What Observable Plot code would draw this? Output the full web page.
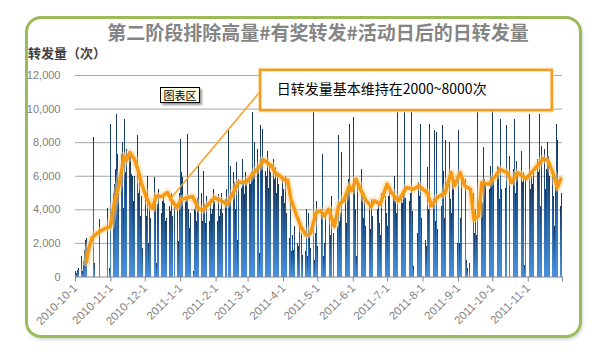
<!DOCTYPE html>
<html><head><meta charset="utf-8">
<script src="https://cdn.jsdelivr.net/npm/d3@7"></script>
<script src="https://cdn.jsdelivr.net/npm/@observablehq/plot@0.6"></script>
<style>
body{margin:0;background:#fff;}
#wrap{position:relative;width:614px;height:364px;overflow:hidden;font-family:"Noto Sans CJK SC",sans-serif;}
#frame{position:absolute;left:25px;top:16px;width:557px;height:322px;border:3px solid #9bbb59;border-radius:16px;box-sizing:border-box;box-shadow:1px 2px 3px rgba(0,0,0,0.15);}
#chart{position:absolute;left:0;top:0;}
#title{position:absolute;left:0;width:636px;top:18px;text-align:center;font-size:19px;font-weight:bold;color:#858585;line-height:28px;white-space:nowrap;}
#ylabel{position:absolute;left:28px;top:44px;font-size:13px;font-weight:bold;color:#404040;line-height:18px;white-space:nowrap;}
#tip{position:absolute;left:160px;top:87px;width:38px;height:14px;background:#ffffe1;border:1px solid #000;box-shadow:2px 2px 2px #999;font-size:11px;line-height:14px;text-align:center;color:#000;}
</style>
</head><body>
<div id="wrap">
  <div id="frame"></div>
  <div id="chart"></div>
  <div id="title">第二阶段排除高量#有奖转发#活动日后的日转发量</div>
  <div id="ylabel">转发量（次）</div>
  <div id="tip">图表区</div>
</div>
<script>
// Daily repost counts, one array per month (0 = no bar that day)
const monthStarts = ["2010-10-01","2010-11-01","2010-12-01","2011-01-01","2011-02-01","2011-03-01","2011-04-01","2011-05-01","2011-06-01","2011-07-01","2011-08-01","2011-09-01","2011-10-01","2011-11-01"];
const oct2010 = [300,200,400,500,400,1200,300,900,1600,2200,2300,4500,0,0,0,0,8300,800,0,0,0,3400,0,0,0,0,0,0,4100,0,500];
const nov2010 = [9100,4200,5000,5500,6400,9700,7300,5000,9600,7300,8000,4100,9400,6200,7600,7600,7500,7200,6100,6000,4500,6000,2700,8400,5000,6000,3600,4800,1700,2500];
const dec2010 = [4800,3600,6000,2000,4400,3500,6500,0,5900,4600,800,4300,5200,6800,3800,4500,5000,4400,3300,3500,5900,4200,3900,5000,3600,0,4500,3400,4000,2100,5000];
const jan2011 = [8200,6200,5900,3000,4500,4700,8500,4000,2900,3800,3400,300,4000,4200,3300,4700,6600,2600,5000,3300,6300,4300,3200,4800,5000,3300,4600,3700,4000,5200,4500];
const feb2011 = [4700,3300,4900,3600,4000,5000,3800,4400,4600,5200,0,8700,4800,6600,5200,6200,5600,4000,6800,2200,5800,6000,5300,7000,5600,4900,6200,5800];
const mar2011 = [8100,5800,5500,6200,9800,6000,8000,5600,7600,6400,1400,9000,7000,8800,7200,6300,6000,7500,5300,6800,6200,4300,7000,5800,6500,5000,6200,5500,6000,4800,6000];
const apr2011 = [5200,4400,6000,3800,5500,2300,4600,1500,2500,1600,3000,1200,2000,1800,3500,0,2600,1300,2200,1500,4000,1200,3800,2400,1700,3500,9800,1000,2600,4500];
const may2011 = [1800,400,3000,4000,7300,1200,2000,3600,2000,4400,3800,2500,4800,0,2600,4200,3500,3000,8400,3300,3800,7400,2800,7900,4600,3200,5400,5800,9100,4800,5000];
const jun2011 = [9500,5400,4000,1200,5800,3600,1500,6400,4800,3500,5000,3000,8600,3500,4200,2800,4600,3600,0,5000,3500,4000,4300,3200,2500,5000,9700,5600,4800,3800];
const jul2011 = [3000,4800,5200,2500,3800,5000,6000,4500,3800,9800,5600,1300,4800,4400,5200,9800,4700,3600,8800,4500,5000,9800,3900,600,5200,4000,2600,5600,4800,9100,3500];
const aug2011 = [3500,4200,2200,1800,6500,4000,9100,3000,8300,4600,8700,3300,8600,2800,5000,0,4200,9000,6300,3500,8100,5200,8800,8000,4600,3800,5600,5300,8700,4200,2000];
const sep2011 = [8700,2000,3500,6000,4500,2500,5800,1000,500,0,800,5400,3500,5000,2600,4000,2500,9800,5000,3800,5600,4400,7700,5800,5500,8500,6000,5200,6600,5900];
const oct2011 = [9900,5800,8300,5000,6600,6500,4600,9400,5200,7000,6000,5300,9000,0,0,7200,500,0,6400,9400,5000,6900,6200,4800,5500,7500,5600,6200,700,5800,6000];
const nov2011 = [6800,9700,5200,6000,5500,6200,9700,4800,7000,6200,9700,4200,7800,6500,7600,5200,6400,8000,7200,6000,5800,6200,4800,3000,5600,9100,8100,6000,4200,5000];
const months = [oct2010,nov2010,dec2010,jan2011,feb2011,mar2011,apr2011,may2011,jun2011,jul2011,aug2011,sep2011,oct2011,nov2011];

// Moving-average (10 period) line
const avgDates = ["2010-10-10","2010-10-12","2010-10-15","2010-10-21","2010-10-28","2010-10-31","2010-11-03","2010-11-08","2010-11-12","2010-11-14","2010-11-17","2010-11-21","2010-11-24","2010-11-27","2010-12-01","2010-12-05","2010-12-07","2010-12-10","2010-12-15","2010-12-20","2010-12-23","2010-12-28","2011-01-01","2011-01-07","2011-01-11","2011-01-16","2011-01-20","2011-01-25","2011-01-30","2011-02-05","2011-02-10","2011-02-14","2011-02-20","2011-02-27","2011-03-02","2011-03-07","2011-03-11","2011-03-14","2011-03-17","2011-03-21","2011-03-24","2011-03-28","2011-04-01","2011-04-04","2011-04-07","2011-04-12","2011-04-16","2011-04-20","2011-04-24","2011-04-29","2011-05-03","2011-05-06","2011-05-10","2011-05-15","2011-05-19","2011-05-23","2011-05-28","2011-05-30","2011-06-03","2011-06-06","2011-06-11","2011-06-16","2011-06-19","2011-06-24","2011-06-30","2011-07-04","2011-07-10","2011-07-17","2011-07-23","2011-07-28","2011-08-04","2011-08-08","2011-08-13","2011-08-20","2011-08-25","2011-08-28","2011-09-02","2011-09-06","2011-09-11","2011-09-14","2011-09-18","2011-09-21","2011-09-27","2011-10-03","2011-10-07","2011-10-13","2011-10-17","2011-10-22","2011-10-30","2011-11-06","2011-11-14","2011-11-18","2011-11-23","2011-11-26","2011-11-29"];
const avgValues = [860,1660,2350,2690,2950,3000,4260,5630,7210,6940,7410,7020,6420,5630,4830,4240,4080,4830,4790,5030,4630,4140,4630,4730,4790,4080,4000,4340,4730,4540,4340,4830,5630,5670,5920,6320,6620,6980,6820,6620,6220,6030,5790,5770,4630,3640,2950,2510,2590,3840,3940,3640,4040,3010,4340,4540,5430,5130,5830,5330,4630,4200,4540,4340,5530,5030,4540,5330,5230,5430,5030,4240,4730,5030,6220,5430,6220,5430,5230,3440,3640,5630,5530,6030,6420,6220,5630,6220,5870,6420,7060,6920,6030,5330,5830];

const yTicks = [0,2000,4000,6000,8000,10000,12000];
const xStart = "2010-10-01", xEnd = "2011-12-01";

// Annotation
const noteText = "日转发量基本维持在2000~8000次";
const notePoint = {date: "2010-12-24", value: 4730};
const noteBox = {x1: "2011-03-12", x2: "2011-11-22", y1: 9915, y2: 12300, anchorValue: 11090, textDate: "2011-03-26", textValue: 11150};

// ---- build tables ----
const bars = [];
months.forEach((arr, i) => {
  const s = new Date(monthStarts[i]);
  arr.forEach((v, j) => { if (v > 0) bars.push({date: d3.utcDay.offset(s, j), value: v}); });
});
const avg = avgDates.map((d, i) => ({date: d3.utcHour.offset(new Date(d), 12), value: avgValues[i]}));
const start = new Date(xStart), end = new Date(xEnd);
const monthTicks = d3.utcMonth.range(start, d3.utcDay.offset(end, 1));
const fmt = d => +d === +end ? "" : `${d.getUTCFullYear()}-${d.getUTCMonth() + 1}-${d.getUTCDate()}`;
const box = [{x1: new Date(noteBox.x1), x2: new Date(noteBox.x2), y1: noteBox.y1, y2: noteBox.y2}];
const link = [{xa: new Date(notePoint.date), ya: notePoint.value, xb: new Date(noteBox.x1), yb: noteBox.anchorValue}];

const svg = Plot.plot({
  width: 614, height: 364,
  marginLeft: 75, marginRight: 52, marginTop: 75, marginBottom: 87.5,
  style: {background: "transparent", fontFamily: "'Liberation Sans', Arial, sans-serif", fontSize: "11px", color: "#7f7f7f", overflow: "visible"},
  x: {type: "utc", domain: [start, end]},
  y: {domain: [0, 12000]},
  marks: [
    Plot.gridY(yTicks.slice(1), {stroke: "#a6a6a6", strokeOpacity: 1}),
    Plot.axisY(yTicks, {tickSize: 0, tickPadding: 15, tickFormat: d3.format(","), label: null, fill: "#7f7f7f", fontSize: 11}),
    Plot.rectY(bars, {x: "date", y: "value", interval: "day", fill: "url(#barGrad)", insetRight: 0.35, shapeRendering: "crispEdges"}),
    Plot.ruleY([0], {stroke: "#868686"}),
    Plot.axisX(monthTicks, {tickSize: 5, tickRotate: -45, tickPadding: 4, tickFormat: fmt, label: null, stroke: "#868686", fill: "#7f7f7f", fontSize: 11.5}),
    Plot.line(avg, {x: "date", y: "value", stroke: "#fcd79a", strokeWidth: 8, strokeOpacity: 0.5, strokeLinejoin: "round"}),
    Plot.line(avg, {x: "date", y: "value", stroke: "#f59a12", strokeWidth: 3.5, strokeLinejoin: "round", strokeLinecap: "round"}),
    Plot.link(link, {x1: "xa", y1: "ya", x2: "xb", y2: "yb", stroke: "#f7a32b", strokeWidth: 1.6}),
    Plot.rect(box, {x1: "x1", x2: "x2", y1: "y1", y2: "y2", fill: "none", stroke: "#fcd79a", strokeWidth: 5, strokeOpacity: 0.6}),
    Plot.rect(box, {x1: "x1", x2: "x2", y1: "y1", y2: "y2", fill: "#fff", stroke: "#f59b1c", strokeWidth: 2.5}),
    Plot.text([noteText], {x: new Date(noteBox.textDate), y: noteBox.textValue, text: d => d, textAnchor: "start", fontSize: 14, fill: "#000", fontFamily: "'Noto Sans CJK SC', sans-serif"})
  ]
});
const ns = "http://www.w3.org/2000/svg";
const defs = document.createElementNS(ns, "defs");
defs.innerHTML = '<linearGradient id="barGrad" x1="0" y1="0" x2="0" y2="1"><stop offset="0" stop-color="#18345a"/><stop offset="0.45" stop-color="#2561a0"/><stop offset="1" stop-color="#4a91dc"/></linearGradient>';
svg.insertBefore(defs, svg.firstChild);
document.getElementById("chart").appendChild(svg);
</script>
</body></html>
